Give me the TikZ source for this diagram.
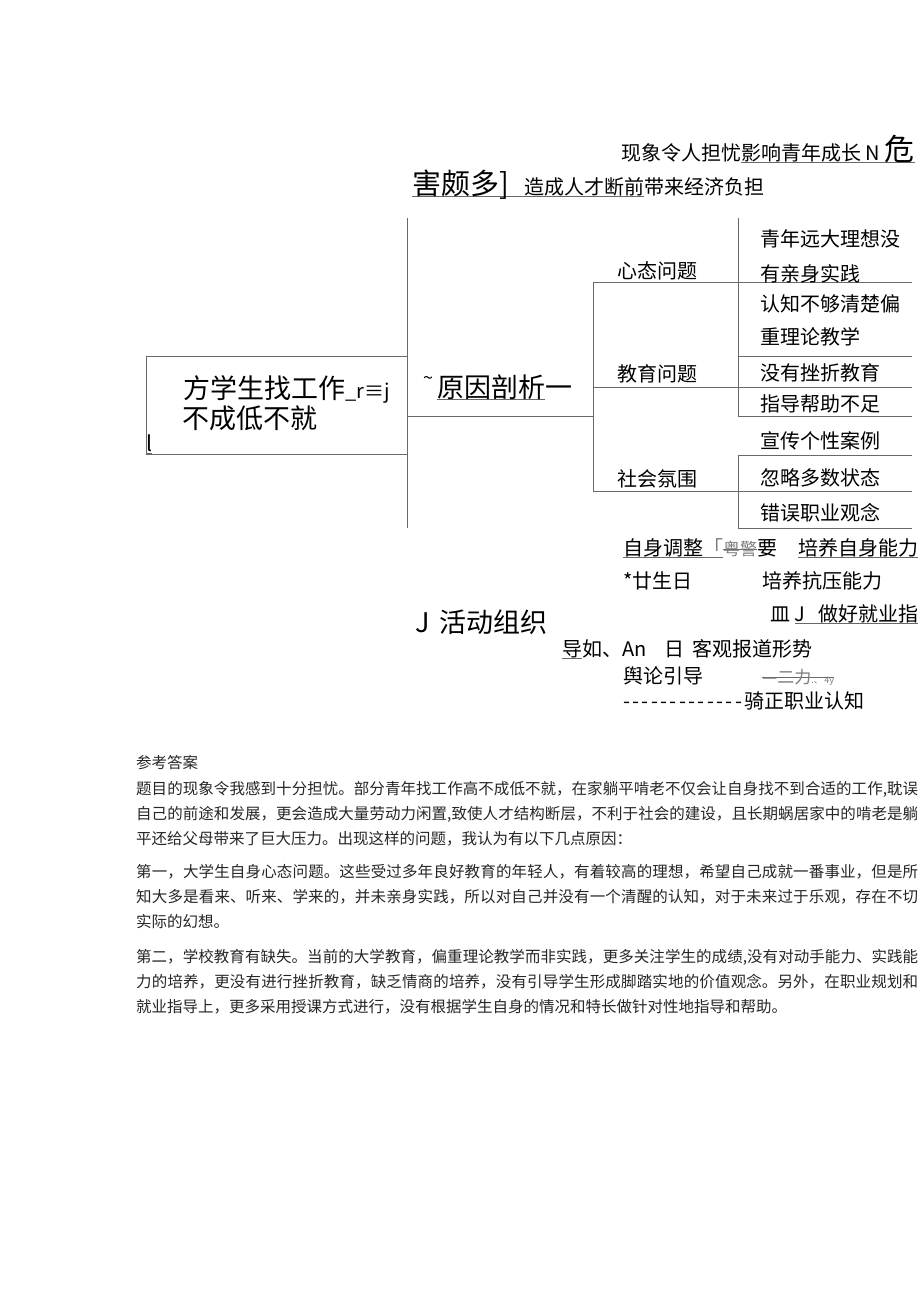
\documentclass[tikz,border=0pt]{standalone}
\usepackage{fontspec}
\setmainfont{Noto Sans CJK SC}
\usetikzlibrary{positioning}
\XeTeXlinebreaklocale "zh"
\XeTeXlinebreakskip=0pt plus 2pt minus 0.2pt

\definecolor{linegray}{RGB}{105,105,105}
\definecolor{txtgray}{RGB}{125,125,125}

\newsavebox\markbox
\newcommand\fsz[1]{\fontsize{#1}{#1}\selectfont}
\newcommand\gul[1]{\sbox\markbox{#1}\rlap{\textcolor{linegray}{\rule[-3pt]{\wd\markbox}{0.9pt}}}\usebox\markbox}
\newcommand\gsout[1]{\sbox\markbox{#1}\rlap{\textcolor{linegray}{\rule[5.5pt]{\wd\markbox}{0.8pt}}}\usebox\markbox}
\newcommand\dashrow{\foreach \k in {1,...,13}{-\kern2.4pt}}

\tikzset{
  tline/.style={draw=linegray, line width=0.9pt},
  big/.style={inner sep=0pt, anchor=base west, font=\fsz{27}},
  mid/.style={inner sep=0pt, anchor=base west, font=\fsz{20}},
  para/.style={inner sep=0pt, anchor=base west, text width=782pt, align=justify,
    font=\fontsize{15.5}{25.2}\selectfont, text=black!85},
}

\begin{document}
\begin{tikzpicture}[x=1pt, y=-1pt]
  \fill[white] (0,0) rectangle (920,1301);
  \useasboundingbox (0,0) rectangle (920,1301);

  % heading
  \node[mid] (head1) at (621,160) {现象令人担忧\gul{影响青年成长 N {\fsz{30}危}}};
  \node[mid] (head2) at (412,194) {\gul{{\fsz{29}害颇多]\hspace{15pt}}造成人才断前}带来经济负担};

  % frame of the tree
  \coordinate (a1) at (407,218);
  \coordinate (a2) at (407,528);
  \coordinate (b1) at (146,356);
  \coordinate (b2) at (146,454);
  \coordinate (b3) at (407,356);
  \coordinate (b4) at (407,454);
  \coordinate (c1) at (407,416);
  \coordinate (c2) at (593,416);
  \coordinate (d1) at (593,282);
  \coordinate (d2) at (593,491);
  \coordinate (d3) at (593,387);
  \coordinate (e1) at (912,282);
  \coordinate (e2) at (912,356);
  \coordinate (e3) at (912,387);
  \coordinate (e4) at (912,416);
  \coordinate (e5) at (912,491);
  \coordinate (e6) at (912,455);
  \coordinate (e7) at (912,528);
  \coordinate (f1) at (738,218);
  \coordinate (f2) at (738,416);
  \coordinate (f3) at (738,356);
  \coordinate (g1) at (738,455);
  \coordinate (g2) at (738,528);

  \draw[tline] (a1) -- (a2);
  \draw[tline] (b3) -- (b1) -- (b2) -- (b4);
  \draw[tline] (c1) -- (c2);
  \draw[tline] (d1) -- (d2);
  \draw[tline] (d1) -- (e1);
  \draw[tline] (d3) -- (e3);
  \draw[tline] (d2) -- (e5);
  \draw[tline] (f1) -- (f2) -- (e4);
  \draw[tline] (f3) -- (e2);
  \draw[tline] (e6) -- (g1) -- (g2) -- (e7);

  % problem box
  \node[big] (prob1) at (183,398) {方学生找工作{\fsz{20}\_r≡j}};
  \node[big] (prob2) at (182,428) {不成低不就};
  \node[inner sep=0pt, anchor=base west, font=\fsz{21}] (probmark) at (146,451) {\gul{l}};

  \node[big] (cause) at (423,397) {\raisebox{13pt}{\fsz{18}\textasciitilde}\hspace{4pt}\gul{原因剖析}一};

  % causes
  \node[mid] (mind) at (617,278) {心态问题};
  \node[mid] (edu) at (617,381) {教育问题};
  \node[mid] (soc) at (617,486) {社会氛围};

  \node[mid] (m1) at (760,246) {青年远大理想没};
  \node[mid] (m2) at (760,281) {有亲身实践};
  \node[mid] (m3) at (760,311) {认知不够清楚偏};
  \node[mid] (e1t) at (760,344) {重理论教学};
  \node[mid] (e2t) at (760,380) {没有挫折教育};
  \node[mid] (e3t) at (760,411) {指导帮助不足};
  \node[mid] (s1) at (760,448) {宣传个性案例};
  \node[mid] (s2) at (760,485) {忽略多数状态};
  \node[mid] (s3) at (760,520) {错误职业观念};

  % measures
  \node[mid] (adj) at (623,555) {\gul{自身调整{\color{txtgray}「}}{\color{txtgray}\fsz{17}\gsout{粤警}}要};
  \node[mid] (skill1) at (798,555) {\gul{培养自身能力}};
  \node[mid] (mark1) at (623,588) {*廿生日};
  \node[mid] (skill2) at (762,588) {培养抗压能力};
  \node[mid] (guide) at (770,621) {皿 \gul{J\hspace{13pt}做好就业指}};
  \node[big] (act) at (415,632) {J\hspace{10pt}活动组织};
  \node[mid] (media) at (562,656) {\gul{导}如、An\hspace{18pt}日\hspace{8pt}客观报道形势};
  \node[mid] (opin) at (623,683) {舆论引导};
  \node[inner sep=0pt, anchor=base west, font=\fsz{17}, text=txtgray] (noise) at (762,683) {\gsout{—二力{\fsz{9}.、\,4y}}};
  \node[mid] (recog) at (623,708) {\dashrow 骑正职业认知};

  % answer text
  \node[para] (ans) at (136,768) {参考答案};
  \node[para] (par1) at (136,794) {题目的现象令我感到十分担忧。部分青年找工作高不成低不就，在家躺平啃老不仅会让自身找不到合适的工作,耽误\linebreak
  自己的前途和发展，更会造成大量劳动力闲置,致使人才结构断层，不利于社会的建设，且长期蜗居家中的啃老是躺\linebreak
  平还给父母带来了巨大压力。出现这样的问题，我认为有以下几点原因：};
  \node[para] (par2) at (136,877) {第一，大学生自身心态问题。这些受过多年良好教育的年轻人，有着较高的理想，希望自己成就一番事业，但是所\linebreak
  知大多是看来、听来、学来的，并未亲身实践，所以对自己并没有一个清醒的认知，对于未来过于乐观，存在不切\linebreak
  实际的幻想。};
  \node[para] (par3) at (136,962) {第二，学校教育有缺失。当前的大学教育，偏重理论教学而非实践，更多关注学生的成绩,没有对动手能力、实践能\linebreak
  力的培养，更没有进行挫折教育，缺乏情商的培养，没有引导学生形成脚踏实地的价值观念。另外，在职业规划和\linebreak
  就业指导上，更多采用授课方式进行，没有根据学生自身的情况和特长做针对性地指导和帮助。};
\end{tikzpicture}
\end{document}
